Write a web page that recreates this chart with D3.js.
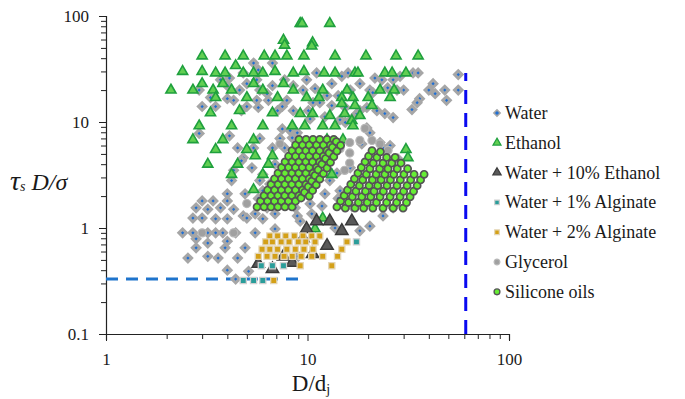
<!DOCTYPE html>
<html>
<head>
<meta charset="utf-8">
<script src="https://cdn.jsdelivr.net/npm/d3@7"></script>
<style>
  body { margin: 0; background: #fff; }
</style>
</head>
<body>
<div id="chart"></div>
<script>
// [D/dj, tau_s D/sigma]
const water = [
  [5.4,36],[6.7,36],[4.8,29],[3.7,25],[4.0,22],[2.9,20],[3.3,17],[3.0,14],[3.5,14],[4.3,16],
  [4.6,20],[5.0,23],[5.6,25],[5.8,20],[5.6,16],[5.0,14],[6.4,16],[7.5,14],[7.9,16],[6.7,22],
  [7.7,25],[8.5,22],[8.5,12.8],[7.1,12.8],[5.7,31],[4.1,26],[4.0,16.6],[4.7,12.8],[5.7,13.7],[6.3,18.5],
  [9.9,25],[11.1,29],[13.2,23],[14.8,27],[15.9,29],[18.2,23],[21.6,26],[23.4,25],[26.6,25],[28.8,27],
  [33.4,29],[35.4,29],[42,23],[40,20],[43,18.5],[48,20],[56,28],[56,20],[49,16],[36,16.6],
  [35,15.2],[33,13.1],[30,20],[25,21],[20.4,20],[16.3,20],[14.2,17.7],[12.5,17.7],[10.9,20.7],[9.5,20],
  [11.5,15.2],[13.2,14.3],[15.4,13.7],[19.7,13.7],[22.1,12.8],[24.2,12],[26.6,11],[10.1,12.8],[12.2,11.2],[17.6,12],
  [27.8,20],[21.1,18.9],[18.2,12.8],[16.6,10.7],[15.4,9.9],[20.4,7.9],[22.9,6.4],[25.7,6.0],[10.65,15.2],[10.3,10.7],
  [14.5,10.5],[19.7,8.8],[18.6,6.2],[23.7,5.7],[28.1,4.5],[16.3,3.7],[14,3.3],[12.9,2.8],[14.5,2.24],[12.2,2.1],
  [10.3,1.69],[9.9,2.34],
  [4.1,7.4],[4.5,5.7],[5.4,5.7],[4.8,4.6],[5.3,3.7],[6.0,3.2],[6.9,4.0],[6.7,5.7],[7.3,7.0],[5.8,7.0],
  [7.7,5.7],[8.4,7.1],[8.9,7.9],[7.5,8.6],[4.3,3.5],[2.9,7.8],[4.7,4.3],[4.2,2.8],[5.8,2.8],[4.0,2.1],
  [4.9,2.1],[5.7,1.9],[6.7,2.0],[6.0,2.24],[6.5,2.6],[8.2,8.3],
  [3.0,1.8],[3.4,1.8],[4.0,1.8],[2.8,1.55],[3.2,1.5],[3.7,1.55],[4.3,1.5],[4.8,1.3],[2.7,1.24],[3.0,1.24],
  [3.5,1.22],[4.0,1.22],[5.0,1.24],[6.0,1.22],[2.4,0.9],[2.7,0.9],[3.2,0.9],[3.5,0.9],[3.8,0.9],[4.4,0.9],
  [5.5,0.9],[2.8,0.79],[3.2,0.72],[4.0,0.75],[2.8,0.65],[3.9,0.65],[4.9,0.65],[2.55,0.52],[3.2,0.54],[3.6,0.52],
  [4.5,0.52],[4.0,0.4],[4.4,0.33],[6.3,1.55],[6.9,1.36],[8.7,1.55],[8.9,1.3],[6.9,0.98],[5.1,0.39],[5.5,1.36],
  [10.5,1.36],[11.8,1.61],[9.2,1.16],[18.2,0.94],[20.4,1.04],[13.7,1.0],[9.0,0.54],[14.2,1.9],[16.6,1.6],[23.7,1.3],
  [26.6,1.55]
];

const ethanol = [
  [9.2,85],[9.4,85],[12.9,85],
  [7.6,59],[7.7,53],[10.6,56],[10.5,52],
  [3.0,42],[3.9,42],[4.8,42],[6.1,42],[6.9,42],[7.9,42],[9.6,42],[13.7,42],[19.5,42],[27.5,42],[35.4,42],
  [2.4,30],[3.0,30],[3.5,29],[3.9,29],[4.4,34],[4.8,29],[5.4,29],[6.0,29],[6.9,30],[8.5,29],[9.6,30],
  [12.1,29],[13.7,29],[17.2,29],[17.8,29],[24.2,29],[26.3,29],[30.8,29],
  [2.1,20],[2.7,20],[3.0,23],[3.4,20],[3.8,23],[4.2,20],[5.4,23],[6.0,20],[7.6,23],[8.5,20],[11.9,20],
  [15.7,20],[22.9,20],[26.9,20],
  [3.5,17],[5.0,17],[7.1,17],[9.9,17],[11.4,17],[14.8,17],[16.8,17],[20.0,17],[25.7,17],
  [3.3,12.2],[4.6,12.8],[6.7,12.2],[9.2,12],[10.6,12],[12.9,11.5],[15.3,12],[18.2,11.5],[14.8,14.9],
  [17.2,14.3],[20.9,14.3],
  [2.9,9.2],[4.2,9.2],[6.0,9.2],[8.4,9.2],[9.7,9.2],[11.9,9.2],[13.7,9.2],[16.6,10.3],[16.8,9.2],
  [2.7,6.8],[3.8,6.8],[5.4,6.8],[12.5,6.8],[15.0,6.8],
  [3.5,5.5],[5.0,5.5],[30.8,5.5],[31.5,4.6],[5.5,4.8],[6.7,4.8],
  [3.2,4.0],[4.5,4.0],[6.4,4.0],[4.2,3.2],[6.0,3.2],[13.2,3.2],[5.4,2.3],
  [11.9,1.24],[10.9,0.98]
];

const ethanol10 = [
  [5.7,0.46],[6.7,0.41],[7.6,0.54],[8.4,0.47],[9.5,0.80],[9.9,0.98],
  [10.6,0.57],[11.1,1.16],[12.5,0.68],[12.9,1.16],[14.8,0.94],[16.6,1.16]
];

const alginate1 = [
  [4.8,0.32],[5.4,0.32],[6.0,0.32],[5.9,0.44],[6.7,0.44],[7.6,0.44],[17.5,0.74]
];

const alginate2 = [
  [6.5,0.84],[7.1,0.84],[7.8,0.84],[8.6,0.84],[9.5,0.84],[10.5,0.84],[11.5,0.84],
  [6.2,0.74],[6.7,0.74],[7.4,0.74],[8.1,0.74],[9.0,0.74],[9.8,0.74],[10.9,0.74],[15.7,0.74],
  [5.95,0.63],[6.5,0.63],[7.1,0.63],[7.9,0.63],[8.7,0.63],[9.6,0.63],[10.65,0.63],[14.8,0.63],
  [5.7,0.54],[6.3,0.54],[6.9,0.54],[7.65,0.54],[8.4,0.54],[9.3,0.54],[10.5,0.54],[11.9,0.54],[14.1,0.54],
  [9.2,0.44],[13.2,0.44],[6.8,0.32]
];

const glycerol = [
  [7.3,6.2],[16.2,4.1],[16.2,5.1],[22.9,6.2],[16.2,6.4],[11.5,4.1],[3.0,0.90],[4.3,0.90],[5.0,1.7],
  [14.5,5.6],[18.2,6.7],[12.9,4.8],[19.3,8.7],[20.9,6.7],[10.0,2.9],[9.0,2.2],[15.3,3.5],[25.1,5.4]
];

const silicone = [
  // left group
  [5.62,1.58],[5.85,1.79],[6.09,2.02],[6.34,2.28],[6.6,2.58],[6.86,2.91],[7.14,3.29],[7.44,3.72],[7.74,4.2],[8.06,4.75],[8.38,5.36],[8.73,6.06],[9.08,6.85],
  [6.09,1.58],[6.34,1.79],[6.6,2.02],[6.87,2.28],[7.15,2.58],[7.44,2.91],[7.74,3.29],[8.06,3.72],[8.39,4.2],[8.73,4.75],[9.09,5.36],[9.46,6.06],[9.84,6.85],
  [6.59,1.58],[6.86,1.79],[7.14,2.02],[7.43,2.28],[7.73,2.58],[8.05,2.91],[8.38,3.29],[8.72,3.72],[9.08,4.2],[9.45,4.75],[9.83,5.36],[10.2,6.06],[10.65,6.85],
  [7.13,1.58],[7.42,1.79],[7.72,2.02],[8.04,2.28],[8.37,2.58],[8.71,2.91],[9.06,3.29],[9.43,3.72],[9.82,4.2],[10.2,4.75],[10.6,5.36],[11.1,6.06],[11.5,6.85],
  [7.73,1.58],[8.05,1.79],[8.37,2.02],[8.72,2.28],[9.07,2.58],[9.44,2.91],[9.83,3.29],[10.2,3.72],[10.6,4.2],[11.1,4.75],[11.5,5.36],[12.0,6.06],[12.5,6.85],
  [8.38,1.58],[8.72,1.79],[9.08,2.02],[9.45,2.28],[9.83,2.58],[10.2,2.91],[10.65,3.29],[11.1,3.72],[11.5,4.2],[12.0,4.75],[12.5,5.36],[13.0,6.06],[13.5,6.85],
  [9.29,1.92],[9.67,2.17],[10.1,2.45],[10.5,2.77],[10.9,3.13],[11.3,3.54],[11.8,4.0],[12.3,4.52],[12.8,5.1],[13.3,5.77],[13.9,6.52],
  [10.2,2.0],[10.6,2.26],[11.05,2.55],[11.5,2.89],[12.0,3.26],[12.5,3.68],[13.0,4.16],[13.5,4.71],[14.0,5.32],[14.6,6.01],
  // right group
  [14.0,1.58],[14.6,1.79],[15.2,2.02],[15.8,2.28],[16.4,2.58],[17.1,2.91],[17.8,3.29],[18.5,3.72],[19.3,4.2],[20.1,4.75],[20.9,5.36],
  [15.4,1.54],[16.0,1.74],[16.7,1.97],[17.4,2.22],[18.1,2.51],[18.8,2.84],[19.6,3.21],[20.4,3.62],[21.2,4.09],[22.1,4.63],[23.0,5.23],
  [17.2,1.54],[17.9,1.74],[18.6,1.97],[19.4,2.22],[20.2,2.51],[21.0,2.84],[21.9,3.21],[22.8,3.62],[23.7,4.09],[24.7,4.63],
  [19.0,1.54],[19.8,1.74],[20.6,1.97],[21.4,2.22],[22.3,2.51],[23.2,2.84],[24.2,3.21],[25.1,3.62],[26.2,4.09],[27.2,4.63],
  [21.1,1.54],[22.0,1.74],[22.9,1.97],[23.8,2.22],[24.8,2.51],[25.8,2.84],[26.8,3.21],[27.9,3.62],[29.1,4.09],
  [23.7,1.54],[24.7,1.74],[25.7,1.97],[26.7,2.22],[27.8,2.51],[28.9,2.84],[30.1,3.21],[31.4,3.62],
  [26.6,1.54],[27.7,1.74],[28.8,1.97],[30.0,2.22],[31.2,2.51],[32.5,2.84],[33.8,3.21],
  [29.8,1.54],[31.0,1.74],[32.3,1.97],[33.6,2.22],[35.0,2.51],[36.4,2.84],[37.9,3.21]
];

// reference lines
const hLine = [[1, 0.33], [9.8, 0.33]];
const vLine = [[61, 0.1], [61, 29]];

const xTicks = [1, 10, 100];
const yTicks = [0.1, 1, 10, 100];

const seriesNames = ['Water', 'Ethanol', 'Water + 10% Ethanol', 'Water + 1% Alginate',
  'Water + 2% Alginate', 'Glycerol', 'Silicone oils'];

const FONT = '"Liberation Serif", "Times New Roman", "DejaVu Serif", serif';
const W = 685, H = 399;
const svg = d3.select('#chart').append('svg')
  .attr('width', W).attr('height', H)
  .attr('viewBox', `0 0 ${W} ${H}`)
  .style('font-family', FONT);

const x = d3.scaleLog().domain([1, 100]).range([106, 509]);
const y = d3.scaleLog().domain([0.1, 100]).range([334, 16]);

const minor = dom => {
  const out = [];
  for (let d = dom[0]; d < dom[1] * 0.999; d *= 10) for (let k = 1; k < 10; k++) out.push(+(d * k).toPrecision(3));
  out.push(dom[1]);
  return out;
};
const isMajor = v => Math.abs(Math.log10(v) - Math.round(Math.log10(v))) < 1e-6;

// Axes
const xAxis = svg.append('g')
  .attr('transform', `translate(0,${y(0.1)})`)
  .call(d3.axisBottom(x).tickValues(minor(x.domain())).tickSize(6).tickPadding(13)
    .tickFormat(d => xTicks.includes(d) ? d3.format('~g')(d) : ''));
const yAxis = svg.append('g')
  .attr('transform', `translate(${x(1)},0)`)
  .call(d3.axisLeft(y).tickValues(minor(y.domain())).tickSize(6).tickPadding(11)
    .tickFormat(d => yTicks.includes(d) ? d3.format('~g')(d) : ''));

[xAxis, yAxis].forEach(ax => {
  ax.attr('font-family', null);
  ax.select('.domain').attr('stroke', '#222').attr('stroke-width', 1.2);
  ax.selectAll('.tick line').attr('stroke', '#222').attr('stroke-width', 1);
  ax.selectAll('.tick text')
    .style('font-family', FONT).style('font-size', '17px').attr('fill', '#1a1a1a');
});
xAxis.selectAll('.tick line').attr('y2', d => isMajor(d) ? 7 : 5);
yAxis.selectAll('.tick line').attr('x2', d => isMajor(d) ? -7 : -5);

// Axis titles
const xt = svg.append('text')
  .attr('x', 311).attr('y', 391)
  .attr('text-anchor', 'middle')
  .style('font-family', FONT)
  .style('font-size', '23px')
  .attr('fill', '#1a1a1a')
  .text('D/d');
xt.append('tspan').attr('dy', 3).style('font-size', '14px').text('j');

const yt = svg.append('text')
  .attr('x', 10).attr('y', 190)
  .style('font-family', FONT)
  .style('font-style', 'italic')
  .attr('fill', '#1a1a1a')
  .style('font-size', '28px');
yt.append('tspan').text('τ');
yt.append('tspan').style('font-size', '14px').attr('dy', 1).text('s');
yt.append('tspan').attr('dy', -1).attr('dx', 6).style('font-size', '24px').text('D/σ');

// Reference lines
const line = d3.line().x(d => x(d[0])).y(d => y(d[1]));
svg.append('path').datum(hLine).attr('d', line)
  .attr('fill', 'none').attr('stroke', '#1f74cc').attr('stroke-width', 3)
  .attr('stroke-dasharray', '12,8');
svg.append('path').datum(vLine).attr('d', line)
  .attr('fill', 'none').attr('stroke', '#0a0af0').attr('stroke-width', 3)
  .attr('stroke-dasharray', '14,9');

// Marker styles
const styles = [
  { type: d3.symbolSquare, size: 28, rot: 45, fill: '#1f6fd4', stroke: '#a6a6a6', sw: 3, lsize: 20, lsw: 1.5 },
  { type: d3.symbolTriangle, size: 44, rot: 0, fill: '#62cf52', stroke: '#1fa03e', sw: 1.6, lsize: 28, lsw: 1.2 },
  { type: d3.symbolTriangle, size: 66, rot: 0, fill: '#595959', stroke: '#3a3a3a', sw: 1.5, lsize: 30, lsw: 1.2 },
  { type: d3.symbolSquare, size: 38, rot: 0, fill: '#2a9d9a', stroke: '#d0d0d0', sw: 1.3, lsize: 22, lsw: 1.2 },
  { type: d3.symbolSquare, size: 38, rot: 0, fill: '#d4a017', stroke: '#e3d6b8', sw: 1.3, lsize: 22, lsw: 1.2 },
  { type: d3.symbolCircle, size: 52, rot: 0, fill: '#a0a0a0', stroke: '#b8b8b8', sw: 1.2, lsize: 26, lsw: 1.2 },
  { type: d3.symbolCircle, size: 40, rot: 0, fill: '#66ee33', stroke: '#555555', sw: 1.7, lsize: 26, lsw: 1.4 }
];
const allSeries = [water, ethanol, ethanol10, alginate1, alginate2, glycerol, silicone];

const plot = svg.append('g');
allSeries.forEach((data, i) => {
  const s = styles[i];
  plot.append('g').selectAll('path')
    .data(data)
    .join('path')
    .attr('d', d3.symbol().type(s.type).size(s.size))
    .attr('transform', d => `translate(${x(d[0])},${y(d[1])}) rotate(${s.rot})`)
    .attr('fill', s.fill)
    .attr('stroke', s.stroke)
    .attr('stroke-width', s.sw);
});

// Legend
const legend = svg.append('g');
seriesNames.forEach((name, i) => {
  const s = styles[i];
  const ly = 113 + i * 29.8;
  legend.append('path')
    .attr('d', d3.symbol().type(s.type).size(s.lsize))
    .attr('transform', `translate(497,${ly}) rotate(${s.rot})`)
    .attr('fill', s.fill)
    .attr('stroke', s.stroke)
    .attr('stroke-width', s.lsw);
  legend.append('text')
    .attr('x', 505).attr('y', ly + 6)
    .style('font-family', FONT)
    .style('font-size', '18px')
    .attr('fill', '#1a1a1a')
    .text(name);
});
</script>
</body>
</html>
